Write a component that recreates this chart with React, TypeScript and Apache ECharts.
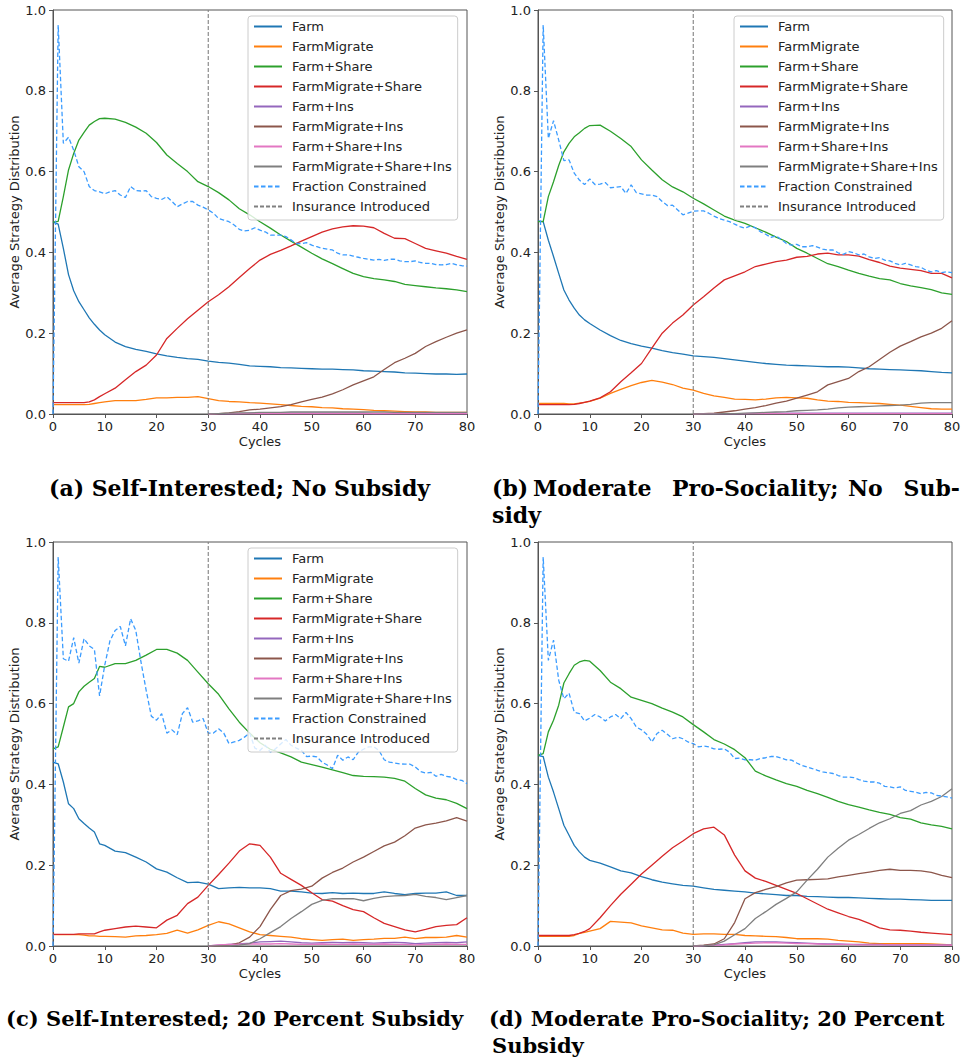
import React, { useEffect, useRef } from "react";
import * as echarts from "echarts";

// ---------- labels ----------
const NAMES = [
  "Farm",
  "FarmMigrate",
  "Farm+Share",
  "FarmMigrate+Share",
  "Farm+Ins",
  "FarmMigrate+Ins",
  "Farm+Share+Ins",
  "FarmMigrate+Share+Ins",
  "Fraction Constrained",
  "Insurance Introduced",
];
const COLORS = ["#1f77b4", "#ff7f0e", "#2ca02c", "#d62728", "#9467bd", "#8c564b", "#e377c2", "#7f7f7f", "#3b9cff", "#808080"];
const X_TICKS = [0, 10, 20, 30, 40, 50, 60, 70, 80];
const Y_TICKS = [0, 0.2, 0.4, 0.6, 0.8, 1.0];
const INSURANCE_CYCLE = 30;

// ---------- sampled cycles ----------
const SX = [0, 1, 2, 3, 4, 5, 6, 7, 8, 9, 10, 12, 14, 16, 18, 20, 22, 24, 26, 28, 30, 32, 34, 36, 38, 40, 42, 44, 46, 48, 50, 52, 54, 56, 58, 60, 62, 64, 66, 68, 70, 72, 74, 76, 78, 80];
const SX_INS = [30, 32, 34, 36, 38, 40, 42, 44, 46, 48, 50, 52, 54, 56, 58, 60, 62, 64, 66, 68, 70, 72, 74, 76, 78, 80];
const CYCLES = [
  0, 1, 2, 3, 4, 5, 6, 7, 8, 9, 10, 11, 12, 13, 14, 15, 16, 17, 18, 19, 20,
  21, 22, 23, 24, 25, 26, 27, 28, 29, 30, 31, 32, 33, 34, 35, 36, 37, 38, 39, 40,
  41, 42, 43, 44, 45, 46, 47, 48, 49, 50, 51, 52, 53, 54, 55, 56, 57, 58, 59, 60,
  61, 62, 63, 64, 65, 66, 67, 68, 69, 70, 71, 72, 73, 74, 75, 76, 77, 78, 79, 80,
];

// ---------- panel (a) ----------
const A_FARM = [0.475, 0.47, 0.41, 0.345, 0.305, 0.278, 0.258, 0.238, 0.222, 0.208, 0.196, 0.178, 0.167, 0.16, 0.155, 0.149, 0.144, 0.14, 0.137, 0.135, 0.131, 0.128, 0.126, 0.123, 0.119, 0.118, 0.117, 0.115, 0.114, 0.113, 0.112, 0.111, 0.111, 0.11, 0.109, 0.107, 0.106, 0.105, 0.104, 0.102, 0.101, 0.1, 0.099, 0.099, 0.098, 0.099];
const A_FM = [0.023, 0.023, 0.023, 0.023, 0.023, 0.023, 0.023, 0.024, 0.026, 0.028, 0.03, 0.033, 0.033, 0.033, 0.036, 0.04, 0.04, 0.041, 0.041, 0.043, 0.038, 0.033, 0.031, 0.03, 0.028, 0.027, 0.025, 0.023, 0.021, 0.019, 0.018, 0.016, 0.015, 0.013, 0.012, 0.011, 0.009, 0.008, 0.007, 0.006, 0.005, 0.005, 0.004, 0.004, 0.004, 0.004];
const A_FS = [0.475, 0.477, 0.538, 0.604, 0.645, 0.678, 0.697, 0.715, 0.724, 0.731, 0.732, 0.73, 0.722, 0.71, 0.695, 0.672, 0.641, 0.62, 0.6, 0.575, 0.563, 0.548, 0.53, 0.508, 0.493, 0.476, 0.46, 0.443, 0.428, 0.413, 0.398, 0.384, 0.372, 0.36, 0.348, 0.34, 0.335, 0.332, 0.328, 0.321, 0.318, 0.315, 0.312, 0.31, 0.307, 0.303];
const A_FMS = [0.028, 0.028, 0.028, 0.028, 0.028, 0.028, 0.028, 0.03, 0.035, 0.043, 0.05, 0.064, 0.085, 0.105, 0.121, 0.146, 0.187, 0.212, 0.236, 0.257, 0.278, 0.295, 0.315, 0.338, 0.36, 0.381, 0.395, 0.405, 0.416, 0.428, 0.439, 0.45, 0.458, 0.463, 0.466, 0.465, 0.461, 0.447, 0.435, 0.434, 0.422, 0.41, 0.404, 0.398, 0.39, 0.383];
const A_FI = [0, 0.001, 0.001, 0.001, 0.002, 0.002, 0.002, 0.002, 0.002, 0.002, 0.002, 0.002, 0.002, 0.002, 0.002, 0.002, 0.001, 0.001, 0.001, 0.001, 0.001, 0.001, 0.001, 0.001, 0.001, 0.001];
const A_FMI = [0, 0.001, 0.003, 0.006, 0.01, 0.012, 0.015, 0.018, 0.023, 0.03, 0.036, 0.042, 0.05, 0.06, 0.072, 0.082, 0.092, 0.11, 0.127, 0.138, 0.15, 0.167, 0.179, 0.19, 0.2, 0.208];
const A_FSI = [0, 0.001, 0.001, 0.001, 0.001, 0.001, 0.001, 0.001, 0.001, 0.001, 0.001, 0.001, 0.001, 0.001, 0.001, 0.001, 0.001, 0.001, 0.001, 0.001, 0.001, 0.001, 0.001, 0.001, 0.001, 0.001];
const A_FMSI = [0, 0.001, 0.002, 0.003, 0.003, 0.004, 0.004, 0.004, 0.005, 0.005, 0.005, 0.005, 0.005, 0.005, 0.005, 0.005, 0.005, 0.005, 0.004, 0.004, 0.004, 0.004, 0.004, 0.004, 0.004, 0.004];
const A_FC = [
  0, 0.963, 0.67, 0.685, 0.653, 0.612, 0.6, 0.563, 0.553, 0.55, 0.545,
  0.55, 0.553, 0.542, 0.536, 0.563, 0.553, 0.552, 0.553, 0.538, 0.534,
  0.531, 0.538, 0.526, 0.513, 0.52, 0.526, 0.526, 0.517, 0.512, 0.505,
  0.497, 0.484, 0.48, 0.476, 0.468, 0.457, 0.453, 0.455, 0.461, 0.455,
  0.451, 0.443, 0.443, 0.443, 0.439, 0.431, 0.422, 0.422, 0.424, 0.418,
  0.414, 0.41, 0.408, 0.406, 0.398, 0.394, 0.394, 0.391, 0.388, 0.385,
  0.383, 0.381, 0.383, 0.38, 0.383, 0.383, 0.379, 0.377, 0.377, 0.379,
  0.375, 0.373, 0.373, 0.37, 0.369, 0.37, 0.373, 0.369, 0.367, 0.366,
];

// ---------- panel (b) ----------
const B_FARM = [0.478, 0.476, 0.43, 0.39, 0.348, 0.307, 0.282, 0.262, 0.245, 0.233, 0.224, 0.208, 0.194, 0.182, 0.174, 0.168, 0.163, 0.157, 0.152, 0.148, 0.144, 0.142, 0.14, 0.137, 0.134, 0.131, 0.128, 0.125, 0.123, 0.121, 0.12, 0.119, 0.118, 0.117, 0.117, 0.116, 0.114, 0.112, 0.111, 0.11, 0.109, 0.108, 0.107, 0.105, 0.103, 0.102];
const B_FM = [0.026, 0.026, 0.026, 0.026, 0.026, 0.026, 0.025, 0.025, 0.027, 0.029, 0.031, 0.039, 0.051, 0.061, 0.07, 0.078, 0.083, 0.079, 0.073, 0.064, 0.059, 0.051, 0.045, 0.041, 0.037, 0.036, 0.035, 0.037, 0.04, 0.041, 0.04, 0.039, 0.035, 0.032, 0.031, 0.029, 0.028, 0.027, 0.026, 0.024, 0.022, 0.019, 0.016, 0.013, 0.012, 0.012];
const B_FS = [0.476, 0.476, 0.538, 0.575, 0.615, 0.649, 0.67, 0.686, 0.696, 0.707, 0.714, 0.715, 0.7, 0.682, 0.662, 0.629, 0.604, 0.58, 0.562, 0.55, 0.534, 0.52, 0.505, 0.49, 0.48, 0.472, 0.461, 0.45, 0.438, 0.427, 0.41, 0.398, 0.385, 0.372, 0.365, 0.356, 0.348, 0.341, 0.335, 0.332, 0.323, 0.317, 0.313, 0.308, 0.3, 0.296];
const B_FMS = [0.023, 0.023, 0.023, 0.023, 0.023, 0.023, 0.023, 0.024, 0.026, 0.029, 0.032, 0.04, 0.055, 0.08, 0.102, 0.125, 0.163, 0.2, 0.225, 0.245, 0.27, 0.29, 0.312, 0.332, 0.342, 0.352, 0.365, 0.371, 0.377, 0.381, 0.388, 0.39, 0.396, 0.398, 0.394, 0.394, 0.391, 0.382, 0.375, 0.366, 0.361, 0.358, 0.355, 0.348, 0.348, 0.337];
const B_FI = [0, 0.001, 0.001, 0.001, 0.001, 0.001, 0.002, 0.002, 0.002, 0.002, 0.002, 0.002, 0.002, 0.002, 0.002, 0.002, 0.002, 0.002, 0.002, 0.002, 0.002, 0.002, 0.002, 0.002, 0.002, 0.002];
const B_FMI = [0, 0.001, 0.002, 0.005, 0.008, 0.012, 0.016, 0.021, 0.027, 0.032, 0.039, 0.047, 0.055, 0.072, 0.08, 0.088, 0.105, 0.117, 0.135, 0.153, 0.168, 0.179, 0.191, 0.2, 0.212, 0.231];
const B_FSI = [0, 0.001, 0.001, 0.001, 0.001, 0.001, 0.001, 0.001, 0.001, 0.001, 0.001, 0.001, 0.001, 0.001, 0.001, 0.001, 0.001, 0.001, 0.001, 0.001, 0.001, 0.001, 0.001, 0.001, 0.001, 0.001];
const B_FMSI = [0, 0, 0, 0.001, 0.001, 0.002, 0.003, 0.004, 0.005, 0.006, 0.008, 0.009, 0.01, 0.012, 0.015, 0.017, 0.018, 0.019, 0.02, 0.021, 0.022, 0.024, 0.027, 0.028, 0.028, 0.028];
const B_FC = [
  0, 0.963, 0.682, 0.726, 0.678, 0.627, 0.629, 0.596, 0.579, 0.568, 0.582,
  0.568, 0.569, 0.573, 0.56, 0.561, 0.563, 0.546, 0.567, 0.548, 0.545,
  0.542, 0.542, 0.538, 0.526, 0.516, 0.517, 0.505, 0.493, 0.497, 0.502,
  0.503, 0.503, 0.497, 0.49, 0.484, 0.48, 0.476, 0.47, 0.464, 0.46,
  0.465, 0.461, 0.451, 0.445, 0.437, 0.441, 0.432, 0.422, 0.418, 0.42,
  0.414, 0.414, 0.417, 0.413, 0.408, 0.406, 0.406, 0.399, 0.395, 0.402,
  0.399, 0.394, 0.396, 0.389, 0.385, 0.387, 0.381, 0.379, 0.373, 0.369,
  0.373, 0.369, 0.365, 0.363, 0.356, 0.352, 0.355, 0.35, 0.352, 0.35,
];

// ---------- panel (c) ----------
const C_FARM = [0.455, 0.451, 0.406, 0.352, 0.34, 0.315, 0.303, 0.292, 0.282, 0.253, 0.249, 0.235, 0.231, 0.22, 0.208, 0.191, 0.183, 0.169, 0.157, 0.158, 0.153, 0.142, 0.144, 0.145, 0.144, 0.144, 0.142, 0.136, 0.136, 0.134, 0.131, 0.13, 0.132, 0.13, 0.131, 0.13, 0.13, 0.134, 0.13, 0.127, 0.13, 0.131, 0.131, 0.134, 0.125, 0.125];
const C_FM = [0.028, 0.028, 0.028, 0.028, 0.028, 0.028, 0.027, 0.025, 0.025, 0.024, 0.024, 0.023, 0.022, 0.025, 0.026, 0.028, 0.031, 0.039, 0.032, 0.04, 0.051, 0.06, 0.055, 0.045, 0.035, 0.028, 0.026, 0.024, 0.022, 0.018, 0.016, 0.014, 0.016, 0.017, 0.014, 0.016, 0.017, 0.019, 0.019, 0.022, 0.018, 0.021, 0.021, 0.022, 0.026, 0.022];
const C_FS = [0.488, 0.493, 0.542, 0.592, 0.6, 0.629, 0.643, 0.653, 0.662, 0.692, 0.69, 0.699, 0.699, 0.707, 0.72, 0.734, 0.734, 0.725, 0.707, 0.678, 0.649, 0.623, 0.587, 0.554, 0.527, 0.503, 0.487, 0.478, 0.468, 0.455, 0.449, 0.443, 0.436, 0.429, 0.422, 0.42, 0.419, 0.418, 0.415, 0.408, 0.39, 0.374, 0.366, 0.362, 0.353, 0.34];
const C_FMS = [0.029, 0.029, 0.029, 0.029, 0.029, 0.03, 0.03, 0.03, 0.03, 0.035, 0.039, 0.043, 0.047, 0.049, 0.047, 0.045, 0.064, 0.076, 0.105, 0.121, 0.15, 0.177, 0.205, 0.235, 0.253, 0.249, 0.22, 0.18, 0.165, 0.15, 0.132, 0.115, 0.111, 0.1, 0.09, 0.085, 0.07, 0.056, 0.048, 0.04, 0.035, 0.041, 0.048, 0.051, 0.053, 0.07];
const C_FI = [0, 0.002, 0.004, 0.005, 0.007, 0.01, 0.011, 0.012, 0.01, 0.008, 0.007, 0.008, 0.009, 0.008, 0.009, 0.008, 0.007, 0.008, 0.009, 0.008, 0.006, 0.007, 0.008, 0.009, 0.008, 0.01];
const C_FMI = [0, 0, 0.002, 0.008, 0.022, 0.048, 0.09, 0.125, 0.137, 0.141, 0.148, 0.168, 0.182, 0.193, 0.208, 0.22, 0.234, 0.248, 0.257, 0.273, 0.292, 0.3, 0.304, 0.31, 0.318, 0.309];
const C_FSI = [0, 0.003, 0.004, 0.004, 0.005, 0.005, 0.005, 0.006, 0.005, 0.004, 0.004, 0.005, 0.004, 0.004, 0.005, 0.004, 0.004, 0.005, 0.004, 0.004, 0.003, 0.004, 0.004, 0.005, 0.004, 0.004];
const C_FMSI = [0, 0, 0, 0.002, 0.006, 0.018, 0.033, 0.048, 0.068, 0.085, 0.103, 0.113, 0.117, 0.117, 0.117, 0.112, 0.118, 0.122, 0.124, 0.125, 0.128, 0.123, 0.12, 0.115, 0.12, 0.125];
const C_FC = [
  0, 0.963, 0.711, 0.705, 0.763, 0.7, 0.761, 0.743, 0.734, 0.619, 0.695,
  0.755, 0.781, 0.791, 0.743, 0.81, 0.781, 0.703, 0.633, 0.569, 0.559,
  0.575, 0.527, 0.535, 0.523, 0.575, 0.59, 0.554, 0.557, 0.563, 0.527,
  0.527, 0.538, 0.527, 0.501, 0.505, 0.509, 0.517, 0.527, 0.49, 0.484,
  0.497, 0.48, 0.488, 0.5, 0.511, 0.497, 0.49, 0.484, 0.469, 0.47,
  0.468, 0.455, 0.448, 0.439, 0.472, 0.46, 0.468, 0.461, 0.48, 0.487,
  0.493, 0.493, 0.484, 0.461, 0.455, 0.453, 0.451, 0.45, 0.45, 0.443,
  0.432, 0.428, 0.43, 0.42, 0.425, 0.42, 0.418, 0.412, 0.41, 0.402,
];

// ---------- panel (d) ----------
const D_FARM = [0.472, 0.469, 0.418, 0.381, 0.34, 0.299, 0.274, 0.249, 0.233, 0.22, 0.212, 0.205, 0.196, 0.186, 0.181, 0.172, 0.164, 0.158, 0.154, 0.15, 0.148, 0.144, 0.14, 0.138, 0.136, 0.134, 0.131, 0.129, 0.127, 0.125, 0.125, 0.123, 0.122, 0.121, 0.12, 0.12, 0.119, 0.118, 0.117, 0.116, 0.116, 0.115, 0.114, 0.113, 0.113, 0.113];
const D_FM = [0.024, 0.024, 0.024, 0.024, 0.024, 0.024, 0.024, 0.026, 0.031, 0.034, 0.037, 0.043, 0.061, 0.059, 0.057, 0.05, 0.045, 0.04, 0.039, 0.032, 0.029, 0.03, 0.03, 0.029, 0.029, 0.026, 0.025, 0.024, 0.023, 0.021, 0.018, 0.018, 0.018, 0.017, 0.014, 0.012, 0.01, 0.007, 0.006, 0.006, 0.006, 0.006, 0.006, 0.005, 0.004, 0.003];
const D_FS = [0.472, 0.476, 0.53, 0.559, 0.596, 0.651, 0.674, 0.695, 0.703, 0.707, 0.705, 0.682, 0.653, 0.637, 0.616, 0.608, 0.6, 0.589, 0.579, 0.567, 0.548, 0.53, 0.511, 0.5, 0.486, 0.466, 0.433, 0.421, 0.411, 0.402, 0.395, 0.385, 0.377, 0.368, 0.358, 0.35, 0.344, 0.337, 0.331, 0.326, 0.318, 0.314, 0.305, 0.3, 0.296, 0.29];
const D_FMS = [0.026, 0.026, 0.026, 0.026, 0.026, 0.026, 0.026, 0.028, 0.031, 0.036, 0.043, 0.07, 0.1, 0.128, 0.153, 0.178, 0.2, 0.222, 0.243, 0.26, 0.278, 0.29, 0.294, 0.275, 0.225, 0.186, 0.168, 0.16, 0.15, 0.14, 0.13, 0.117, 0.104, 0.091, 0.082, 0.073, 0.066, 0.056, 0.045, 0.04, 0.039, 0.037, 0.034, 0.032, 0.03, 0.028];
const D_FI = [0, 0.001, 0.002, 0.004, 0.006, 0.008, 0.01, 0.01, 0.01, 0.009, 0.008, 0.007, 0.006, 0.005, 0.005, 0.004, 0.004, 0.004, 0.004, 0.003, 0.003, 0.003, 0.003, 0.003, 0.003, 0.003];
const D_FMI = [0, 0.002, 0.005, 0.018, 0.058, 0.117, 0.132, 0.14, 0.147, 0.156, 0.163, 0.164, 0.165, 0.166, 0.171, 0.175, 0.179, 0.183, 0.187, 0.19, 0.187, 0.187, 0.186, 0.182, 0.175, 0.169];
const D_FSI = [0, 0.001, 0.002, 0.003, 0.005, 0.006, 0.007, 0.008, 0.008, 0.007, 0.006, 0.006, 0.005, 0.004, 0.004, 0.004, 0.003, 0.003, 0.003, 0.003, 0.003, 0.002, 0.002, 0.002, 0.002, 0.002];
const D_FMSI = [0, 0.001, 0.003, 0.012, 0.028, 0.043, 0.068, 0.085, 0.103, 0.118, 0.134, 0.163, 0.19, 0.22, 0.242, 0.262, 0.276, 0.291, 0.305, 0.315, 0.328, 0.335, 0.349, 0.358, 0.37, 0.389];
const D_FC = [
  0, 0.963, 0.707, 0.757, 0.658, 0.612, 0.626, 0.579, 0.575, 0.557, 0.564,
  0.573, 0.567, 0.557, 0.567, 0.573, 0.563, 0.578, 0.563, 0.542, 0.535,
  0.524, 0.505, 0.526, 0.534, 0.524, 0.513, 0.517, 0.513, 0.505, 0.501,
  0.493, 0.495, 0.493, 0.488, 0.487, 0.488, 0.48, 0.464, 0.465, 0.461,
  0.461, 0.46, 0.464, 0.466, 0.469, 0.469, 0.465, 0.461, 0.46, 0.453,
  0.447, 0.443, 0.439, 0.435, 0.431, 0.429, 0.427, 0.422, 0.418, 0.418,
  0.417, 0.412, 0.408, 0.406, 0.406, 0.403, 0.395, 0.394, 0.391, 0.394,
  0.385, 0.383, 0.381, 0.377, 0.38, 0.379, 0.373, 0.371, 0.369, 0.366,
];

const PANELS = [
  { main: [A_FARM, A_FM, A_FS, A_FMS], ins: [A_FI, A_FMI, A_FSI, A_FMSI], fc: A_FC },
  { main: [B_FARM, B_FM, B_FS, B_FMS], ins: [B_FI, B_FMI, B_FSI, B_FMSI], fc: B_FC },
  { main: [C_FARM, C_FM, C_FS, C_FMS], ins: [C_FI, C_FMI, C_FSI, C_FMSI], fc: C_FC },
  { main: [D_FARM, D_FM, D_FS, D_FMS], ins: [D_FI, D_FMI, D_FSI, D_FMSI], fc: D_FC },
];

// ---------- layout ----------
const GRIDS = [
  { left: 53, top: 10 },
  { left: 538, top: 10 },
  { left: 53, top: 542 },
  { left: 538, top: 542 },
];
const GRID_W = 414;
const GRID_H = 404;
const LEGENDS = [
  { left: 248, top: 16 },
  { left: 734, top: 16 },
  { left: 248, top: 548 },
];
const FONT = "DejaVu Sans";
const SERIF = "DejaVu Serif";
const TEXT = "#222222";
const FS = 13;

function pairs(xs: number[], ys: number[]) {
  return xs.map((x, i) => [x, ys[i]]);
}

function buildOption() {
  const grid = GRIDS.map((g) => ({
    left: g.left,
    top: g.top,
    width: GRID_W,
    height: GRID_H,
    show: true,
    borderColor: "#555555",
    borderWidth: 1,
    backgroundColor: "transparent",
    containLabel: false,
    outerBoundsMode: "none",
  }));
  const xAxis = GRIDS.map((_, i) => ({
    type: "value",
    gridIndex: i,
    min: X_TICKS[0],
    max: X_TICKS[X_TICKS.length - 1],
    interval: 10,
    name: "Cycles",
    nameLocation: "middle",
    nameGap: 21,
    nameTextStyle: { fontFamily: FONT, fontSize: FS, color: TEXT },
    axisLine: { show: true, lineStyle: { color: "#555555", width: 1 } },
    axisTick: { show: true, length: 4, lineStyle: { color: "#555555" } },
    axisLabel: { fontFamily: FONT, fontSize: FS, color: TEXT, margin: 6 },
    splitLine: { show: false },
  }));
  const yAxis = GRIDS.map((_, i) => ({
    type: "value",
    gridIndex: i,
    min: Y_TICKS[0],
    max: Y_TICKS[Y_TICKS.length - 1],
    interval: 0.2,
    name: "Average Strategy Distribution",
    nameLocation: "middle",
    nameGap: 31,
    nameRotate: 90,
    nameTextStyle: { fontFamily: FONT, fontSize: FS, color: TEXT },
    axisLine: { show: true, lineStyle: { color: "#555555", width: 1 } },
    axisTick: { show: true, length: 4, lineStyle: { color: "#555555" } },
    axisLabel: {
      fontFamily: FONT,
      fontSize: FS,
      color: TEXT,
      margin: 7,
      formatter: (v: number) => v.toFixed(1),
    },
    splitLine: { show: false },
  }));

  const series: any[] = [];
  PANELS.forEach((p, i) => {
    const common = {
      type: "line",
      xAxisIndex: i,
      yAxisIndex: i,
      symbol: "none",
      showSymbol: false,
      silent: true,
      connectNulls: false,
    };
    p.main.forEach((vals, k) => {
      series.push({
        ...common,
        name: NAMES[k],
        color: COLORS[k],
        lineStyle: { color: COLORS[k], width: 1.3 },
        data: pairs(SX, vals),
      });
    });
    p.ins.forEach((vals, k) => {
      series.push({
        ...common,
        name: NAMES[4 + k],
        color: COLORS[4 + k],
        lineStyle: { color: COLORS[4 + k], width: 1.3 },
        data: pairs(SX_INS, vals),
      });
    });
    series.push({
      ...common,
      name: NAMES[8],
      color: COLORS[8],
      lineStyle: { color: COLORS[8], width: 1.3, type: [4.5, 2.5] },
      data: pairs(CYCLES, p.fc),
    });
    series.push({
      ...common,
      name: NAMES[9],
      color: COLORS[9],
      lineStyle: { color: COLORS[9], width: 1.1, type: [4, 2] },
      data: [
        [INSURANCE_CYCLE, Y_TICKS[0]],
        [INSURANCE_CYCLE, Y_TICKS[Y_TICKS.length - 1]],
      ],
    });
  });

  const legend = LEGENDS.map((l) => ({
    show: true,
    orient: "vertical",
    left: l.left,
    top: l.top,
    padding: [4, 6, 7, 5],
    itemWidth: 28,
    itemHeight: 13,
    itemGap: 7,
    backgroundColor: "rgba(255,255,255,0.8)",
    borderColor: "#cccccc",
    borderWidth: 1,
    borderRadius: 3,
    selectedMode: false,
    itemStyle: { opacity: 0, borderWidth: 0 },
    textStyle: { fontFamily: FONT, fontSize: FS, color: TEXT, padding: [0, 0, 0, 5] },
    data: NAMES,
  }));

  const cap = (text: string, x: number, y: number, size = 22, align = "left") => ({
    type: "text",
    x,
    y,
    silent: true,
    style: {
      text,
      fontFamily: SERIF,
      fontWeight: "bold",
      fontSize: size,
      fill: "#000000",
      align,
      verticalAlign: "middle",
    },
  });

  const graphic = [
    cap("(a) Self-Interested; No Subsidy", 49, 488),
    cap("(b)", 492, 488),
    cap("Moderate", 533, 488),
    cap("Pro-Sociality;", 672, 488),
    cap("No", 848, 488),
    cap("Sub-", 960, 488, 22, "right"),
    cap("sidy", 492, 515),
    cap("(c) Self-Interested; 20 Percent Subsidy", 6, 1018, 21),
    cap("(d) Moderate Pro-Sociality; 20 Percent", 489, 1018, 21),
    cap("Subsidy", 492, 1045, 21),
  ];

  return {
    animation: false,
    backgroundColor: "#ffffff",
    textStyle: { fontFamily: FONT },
    grid,
    xAxis,
    yAxis,
    legend,
    series,
    graphic,
  };
}

export default function App() {
  const ref = useRef<HTMLDivElement>(null);
  useEffect(() => {
    if (!ref.current) return;
    const chart = echarts.init(ref.current, undefined, { renderer: "svg" });
    chart.setOption(buildOption() as any);
    return () => chart.dispose();
  }, []);
  return (
    <div
      ref={ref}
      style={{ position: "absolute", left: 0, top: 0, width: 961, height: 1058, background: "#fff" }}
    />
  );
}
